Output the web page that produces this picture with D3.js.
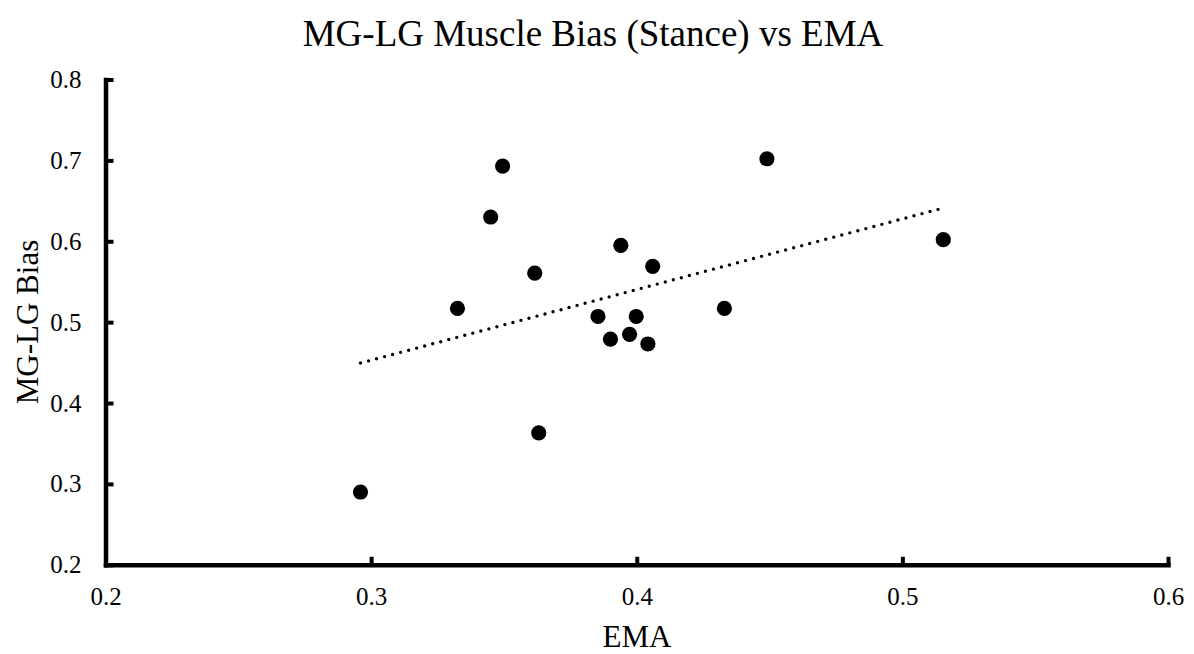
<!DOCTYPE html>
<html>
<head>
<meta charset="utf-8">
<script src="https://cdn.jsdelivr.net/npm/d3@7"></script>
<style>
  body { margin: 0; background: #fff; }
</style>
</head>
<body>
<div id="chart"></div>
<script>
const emaValues = [0.296, 0.3325, 0.345, 0.3495, 0.3616, 0.3631, 0.3854, 0.3901, 0.394, 0.3973, 0.3998, 0.4042, 0.406, 0.433, 0.449, 0.5154];
const biasValues = [0.290, 0.517, 0.630, 0.693, 0.5605, 0.363, 0.507, 0.479, 0.595, 0.485, 0.507, 0.473, 0.569, 0.517, 0.702, 0.602];
const xTicks = [0.2, 0.3, 0.4, 0.5, 0.6];
const yTicks = [0.2, 0.3, 0.4, 0.5, 0.6, 0.7, 0.8];

const serif = '"Liberation Serif", "Times New Roman", serif';
const width = 1194, height = 654;
const svg = d3.select('#chart')
  .append('svg')
  .attr('width', width)
  .attr('height', height)
  .attr('font-family', serif);

const x = d3.scaleLinear().domain([0.2, 0.6]).range([105.5, 1168]);
const y = d3.scaleLinear().domain([0.2, 0.8]).range([564.8, 79.5]);

// axes, ticks point inward
const xAxis = d3.axisBottom(x).tickValues(xTicks).tickFormat(d3.format('.1f'))
  .tickSizeInner(-8).tickSizeOuter(0).tickPadding(22);
const yAxis = d3.axisLeft(y).tickValues(yTicks).tickFormat(d3.format('.1f'))
  .tickSizeInner(-8).tickSizeOuter(0).tickPadding(24);

const gx = svg.append('g').attr('transform', `translate(0,${y(0.2)})`).call(xAxis);
const gy = svg.append('g').attr('transform', `translate(${x(0.2)},0)`).call(yAxis);
[gx, gy].forEach(g => {
  g.attr('font-family', serif).attr('font-size', 25);
  g.select('.domain').attr('stroke', '#000').attr('stroke-width', 4.5).attr('stroke-linecap', 'square');
  g.selectAll('.tick line').attr('stroke', '#000').attr('stroke-width', 4);
  g.selectAll('.tick text').attr('fill', '#000');
});

// linear trendline (least squares)
const mx = d3.mean(emaValues), my = d3.mean(biasValues);
const slope = d3.sum(emaValues, (v, i) => (v - mx) * (biasValues[i] - my)) /
  d3.sum(emaValues, v => (v - mx) * (v - mx));
const intercept = my - slope * mx;
const xExt = d3.extent(emaValues);
svg.append('path')
  .datum(xExt.map(v => [v, intercept + slope * v]))
  .attr('d', d3.line().x(d => x(d[0])).y(d => y(d[1])))
  .attr('fill', 'none')
  .attr('stroke', '#000')
  .attr('stroke-width', 3.4)
  .attr('stroke-linecap', 'round')
  .attr('stroke-dasharray', '0 8.3');

svg.selectAll('.pt')
  .data(emaValues)
  .enter()
  .append('circle')
  .attr('class', 'pt')
  .attr('cx', d => x(d))
  .attr('cy', (d, i) => y(biasValues[i]))
  .attr('r', 7.6)
  .attr('fill', '#000');

svg.append('text')
  .attr('x', 593).attr('y', 46)
  .attr('text-anchor', 'middle')
  .attr('font-size', 37)
  .text('MG-LG Muscle Bias (Stance) vs EMA');

svg.append('text')
  .attr('x', 637).attr('y', 647)
  .attr('text-anchor', 'middle')
  .attr('font-size', 31)
  .text('EMA');

svg.append('text')
  .attr('transform', 'translate(38,322) rotate(-90)')
  .attr('text-anchor', 'middle')
  .attr('font-size', 31)
  .text('MG-LG Bias');
</script>
</body>
</html>
